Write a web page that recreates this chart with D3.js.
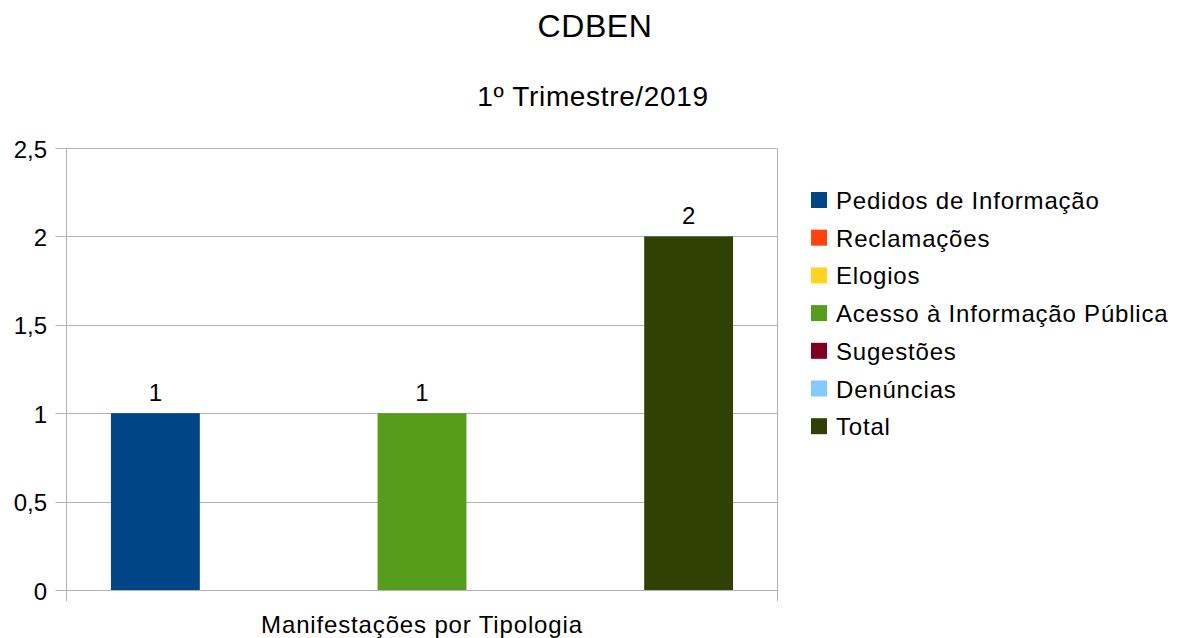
<!DOCTYPE html>
<html>
<head>
<meta charset="utf-8">
<script src="https://cdn.jsdelivr.net/npm/d3@7"></script>
<style>
  body { margin: 0; background: #fff; }
  svg { display: block; font-family: "Liberation Sans", Arial, sans-serif; }
</style>
</head>
<body>
<svg id="chart"></svg>
<script>
// Dati
const categoria = ["Manifestações por Tipologia"];
const serie = ["Pedidos de Informação", "Reclamações", "Elogios",
  "Acesso à Informação Pública", "Sugestões", "Denúncias", "Total"];
const valori = [1, null, null, 1, null, null, 2];   // null = cella vuota
const colori = ["#004586", "#ff420e", "#ffd320", "#579d1c", "#7e0021", "#83caff", "#314004"];
const yTicks = [0, 0.5, 1, 1.5, 2, 2.5];

const width = 1182, height = 638;
const plot = { left: 66.5, right: 777.5, top: 149, bottom: 591 };

const svg = d3.select('#chart')
  .attr('width', width)
  .attr('height', height);

// Titoli
svg.append('text')
  .attr('x', 595).attr('y', 37)
  .attr('text-anchor', 'middle')
  .attr('font-size', '32px')
  .attr('letter-spacing', '0.6px')
  .text('CDBEN');

svg.append('text')
  .attr('x', 593).attr('y', 106)
  .attr('text-anchor', 'middle')
  .attr('font-size', '28px')
  .attr('letter-spacing', '0.65px')
  .text('1º Trimestre/2019');

// Scale
const y = d3.scaleLinear()
  .domain([0, 2.5])
  .range([plot.bottom, plot.top]);

const x0 = d3.scaleBand()
  .domain(categoria)
  .range([plot.left, plot.right])
  .paddingOuter(1 / 14);

const x1 = d3.scaleBand()
  .domain(serie)
  .range([0, x0.bandwidth()]);

const fmt = v => String(v).replace('.', ',');

// Griglia orizzontale
svg.append('g')
  .selectAll('line')
  .data(yTicks)
  .enter()
  .append('line')
  .attr('x1', plot.left - 11).attr('x2', plot.right)
  .attr('y1', d => Math.round(y(d)) - 0.5).attr('y2', d => Math.round(y(d)) - 0.5)
  .attr('stroke', '#b3b3b3')
  .attr('stroke-width', 1);

// Etichette asse Y
svg.append('g')
  .selectAll('text')
  .data(yTicks)
  .enter()
  .append('text')
  .attr('x', 47)
  .attr('y', d => y(d) + 8.5)
  .attr('text-anchor', 'end')
  .attr('font-size', '24px')
  .text(fmt);

// Assi verticali (sinistra e destra) con tacche in basso
[plot.left, plot.right].forEach(xx => {
  svg.append('line')
    .attr('x1', xx).attr('x2', xx)
    .attr('y1', plot.top).attr('y2', plot.bottom + 10)
    .attr('stroke', '#b3b3b3');
});

// Barre
const gruppo = svg.append('g')
  .attr('transform', `translate(${x0(categoria[0])},0)`);

const dati = serie.map((s, i) => ({ s, v: valori[i], c: colori[i] }))
  .filter(d => d.v !== null);

gruppo.selectAll('rect')
  .data(dati)
  .enter()
  .append('rect')
  .attr('x', d => x1(d.s))
  .attr('width', x1.bandwidth())
  .attr('y', d => y(d.v) - 1)
  .attr('height', d => y(0) - y(d.v))
  .attr('fill', d => d.c);

// Etichette dati
gruppo.selectAll('text')
  .data(dati)
  .enter()
  .append('text')
  .attr('x', d => x1(d.s) + x1.bandwidth() / 2)
  .attr('y', d => y(d.v) - 13)
  .attr('text-anchor', 'middle')
  .attr('font-size', '24px')
  .text(d => fmt(d.v));

// Titolo asse X
svg.append('text')
  .attr('x', x0(categoria[0]) + x0.bandwidth() / 2)
  .attr('y', 633)
  .attr('text-anchor', 'middle')
  .attr('font-size', '24px')
  .attr('letter-spacing', '0.85px')
  .text(categoria[0]);

// Legenda
const legenda = svg.append('g')
  .selectAll('g')
  .data(serie)
  .enter()
  .append('g')
  .attr('transform', (d, i) => `translate(811,${200 + i * 37.7})`);

legenda.append('rect')
  .attr('x', 0).attr('y', -8)
  .attr('width', 16).attr('height', 16)
  .attr('fill', (d, i) => colori[i]);

legenda.append('text')
  .attr('x', 25).attr('y', 9)
  .attr('font-size', '24px')
  .attr('letter-spacing', '0.8px')
  .text(d => d);
</script>
</body>
</html>
